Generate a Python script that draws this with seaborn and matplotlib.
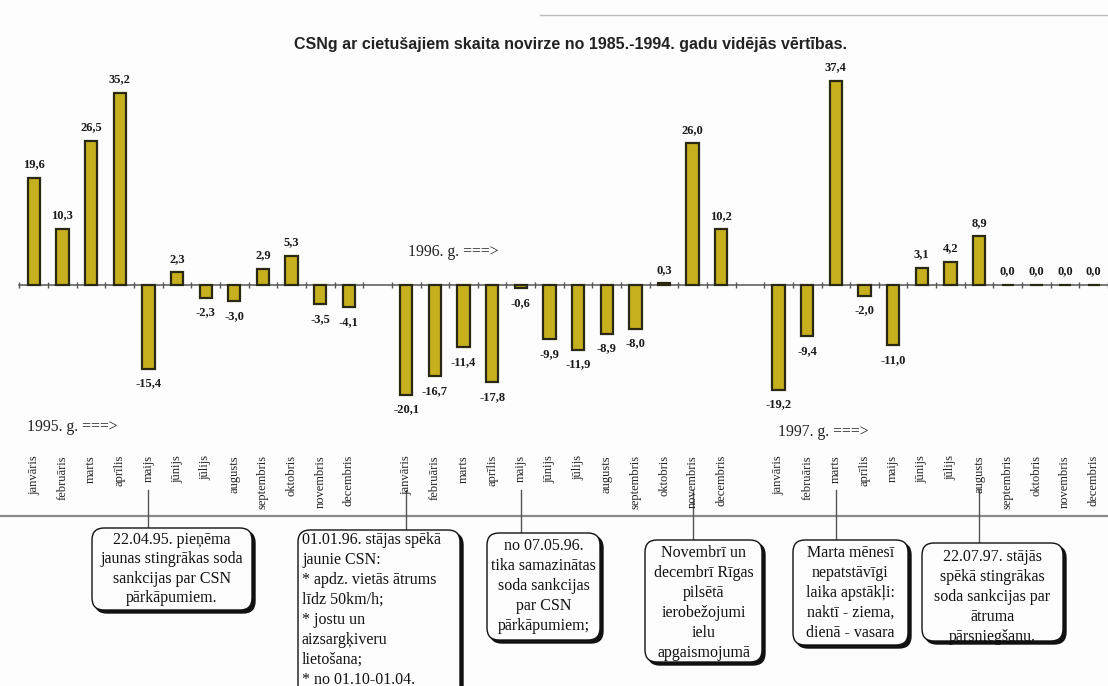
import numpy as np
import pandas as pd
import matplotlib
matplotlib.use("Agg")
import matplotlib.pyplot as plt
from matplotlib import transforms
from matplotlib.patches import FancyBboxPatch
import seaborn as sns

# ---- data -------------------------------------------------------------
months = ["janvāris", "februāris", "marts", "aprīlis", "maijs", "jūnijs",
          "jūlijs", "augusts", "septembris", "oktobris", "novembris", "decembris"]
years = [1995, 1996, 1997]
year_labels = ["1995. g. ===>", "1996. g. ===>", "1997. g. ===>"]

dev_1995 = [19.6, 10.3, 26.5, 35.2, -15.4, 2.3, -2.3, -3.0, 2.9, 5.3, -3.5, -4.1]
dev_1996 = [-20.1, -16.7, -11.4, -17.8, -0.6, -9.9, -11.9, -8.9, -8.0, 0.3, 26.0, 10.2]
dev_1997 = [-19.2, -9.4, 37.4, -2.0, -11.0, 3.1, 4.2, 8.9, 0.0, 0.0, 0.0, 0.0]

title = "CSNg ar cietušajiem skaita novirze no 1985.-1994. gadu vidējās vērtības."

# notes: (year index, month index, text lines)
notes = [
    (0, 4, ["22.04.95. pieņēma", "jaunas stingrākas soda", "sankcijas par CSN", "pārkāpumiem."]),
    (1, 0, ["01.01.96. stājas spēkā", "jaunie CSN:", "* apdz. vietās ātrums", "līdz 50km/h;",
            "* jostu un", "aizsargķiveru", "lietošana;", "* no 01.10-01.04."]),
    (1, 4, ["no 07.05.96.", "tika samazinātas", "soda sankcijas", "par CSN", "pārkāpumiem;"]),
    (1, 10, ["Novembrī un", "decembrī Rīgas", "pilsētā", "ierobežojumi", "ielu", "apgaismojumā"]),
    (2, 2, ["Marta mēnesī", "nepatstāvīgi", "laika apstākļi:", "naktī - ziema,", "dienā - vasara"]),
    (2, 7, ["22.07.97. stājās", "spēkā stingrākas", "soda sankcijas par", "ātruma", "pārsniegšanu."]),
]

# ---- table: one slot per month, an empty slot between years ----------
rows = []
for yi, vals in enumerate([dev_1995, dev_1996, dev_1997]):
    for mi, v in enumerate(vals):
        rows.append({"year": years[yi], "month": months[mi],
                     "slot": yi * 13 + mi, "value": v})
df = pd.DataFrame(rows)

# ---- figure -----------------------------------------------------------
W, H = 1108, 686
SERIF = "Liberation Serif"
fig = plt.figure(figsize=(W / 100, H / 100), dpi=100, facecolor="#fdfdfd")
ax = fig.add_axes([0, 0, 1, 1])
ax.set_facecolor("#fdfdfd")

sns.barplot(data=df, x="slot", y="value", native_scale=True, width=0.43,
            color="#c6b01e", saturation=1, edgecolor="#2a2712", linewidth=1.6,
            errorbar=None, ax=ax, zorder=3)

# layout: slot 0 centred 34 px from the left, 28.8 px per slot,
# zero line 285 px from the top, 5.45 px per unit
X0, SLOT, Y0, UNIT = 34, 28.8, 285, 5.45
ax.set_xlim(-X0 / SLOT, (W - X0) / SLOT)
ax.set_ylim(-(H - Y0) / UNIT, Y0 / UNIT)

# pixel transform (origin top-left)
px = transforms.Affine2D().scale(1 / W, -1 / H).translate(0, 1) + fig.transFigure
xpx = transforms.blended_transform_factory(ax.transData, px)

for s in ["top", "left", "right"]:
    ax.spines[s].set_visible(False)
ax.spines["bottom"].set_position(("data", 0))
ax.spines["bottom"].set_bounds(-0.5, 38)
ax.spines["bottom"].set_color("#555555")
ax.spines["bottom"].set_linewidth(1.1)
ax.set_xticks(np.arange(-0.5, 38, 1))
ax.tick_params(axis="x", direction="inout", length=5, width=1,
               colors="#555555", labelbottom=False)
ax.set_yticks([])
ax.set_xlabel("")
ax.set_ylabel("")

# value labels
for slot, v in zip(df["slot"], df["value"]):
    txt = f"{v:.1f}".replace(".", ",")
    if v >= 0:
        ax.text(slot, v + 1.4, txt, ha="center", va="bottom", fontsize=9,
                fontweight="bold", family=SERIF, color="#1a1a1a", zorder=4)
    else:
        ax.text(slot, v - 1.6, txt, ha="center", va="top", fontsize=9,
                fontweight="bold", family=SERIF, color="#1a1a1a", zorder=4)

# month names
for slot, m in zip(df["slot"], df["month"]):
    ax.text(slot, 455, m, rotation=90, ha="center", va="top", fontsize=9,
            family=SERIF, color="#222222", transform=xpx)

# title and year markers
ax.text(570, 45, title, ha="center", va="center", fontsize=11.5,
        fontweight="bold", family="Liberation Sans", color="#222222", transform=px)
for (x, y), lab in zip([(27, 427), (408, 252), (778, 432)], year_labels):
    ax.text(x, y, lab, ha="left", va="center", fontsize=11.3, family=SERIF,
            color="#222222", transform=px)

# rules across the page
ax.plot([540, W], [15, 15], color="#bdbdbd", lw=1.0, transform=px)
ax.plot([0, W], [516, 516], color="#8a8a8a", lw=1.6, transform=px)

# note boxes: (x0, y0, x1, y1), alignment, first line y, line step
boxes = [
    ((92, 528, 252, 610), "center", 540, 19.3),
    ((298, 530, 460, 700), "left", 540, 20.0),
    ((487, 533, 600, 640), "center", 546, 20.0),
    ((645, 540, 762, 662), "center", 553, 20.0),
    ((793, 540, 908, 645), "center", 553, 20.0),
    ((922, 543, 1063, 641), "center", 557, 20.0),
]
for (yi, mi, lines), ((x0, y0, x1, y1), align, ty, step) in zip(notes, boxes):
    slot = yi * 13 + mi
    ax.plot([slot, slot], [490, y0], color="#555555", lw=1.0, transform=xpx)
    shadow = FancyBboxPatch((x0 + 3, y0 + 3), x1 - x0, y1 - y0,
                            boxstyle="round,pad=0,rounding_size=12",
                            facecolor="#111111", edgecolor="#111111", lw=1.0,
                            transform=px, zorder=5)
    box = FancyBboxPatch((x0, y0), x1 - x0, y1 - y0,
                         boxstyle="round,pad=0,rounding_size=12",
                         facecolor="#fdfdfd", edgecolor="#111111", lw=1.0,
                         transform=px, zorder=6)
    ax.add_patch(shadow)
    ax.add_patch(box)
    tx = (x0 + x1) / 2 if align == "center" else x0 + 4
    for k, line in enumerate(lines):
        ax.text(tx, ty + k * step, line, ha=align, va="center", fontsize=11.5,
                family=SERIF, color="#111111", transform=px, zorder=7)

fig.savefig("out.png", dpi=100, facecolor=fig.get_facecolor())
